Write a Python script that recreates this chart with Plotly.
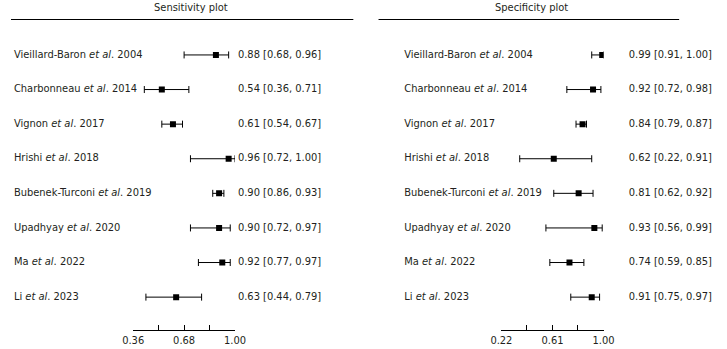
import plotly.graph_objects as go

studies = [
    "Vieillard-Baron <i>et al</i>. 2004",
    "Charbonneau <i>et al</i>. 2014",
    "Vignon <i>et al</i>. 2017",
    "Hrishi <i>et al</i>. 2018",
    "Bubenek-Turconi <i>et al</i>. 2019",
    "Upadhyay <i>et al</i>. 2020",
    "Ma <i>et al</i>. 2022",
    "Li <i>et al</i>. 2023",
]
# point estimates and CI ends as drawn in the picture
sens = [0.88, 0.54, 0.61, 0.96, 0.90, 0.90, 0.92, 0.63]
sens_lo = [0.68, 0.43, 0.54, 0.72, 0.86, 0.72, 0.77, 0.44]
sens_hi = [0.96, 0.71, 0.67, 1.00, 0.93, 0.97, 0.97, 0.79]
spec = [0.99, 0.92, 0.84, 0.62, 0.81, 0.93, 0.74, 0.91]
spec_lo = [0.91, 0.72, 0.79, 0.36, 0.62, 0.56, 0.59, 0.75]
spec_hi = [1.00, 0.98, 0.87, 0.91, 0.92, 0.99, 0.85, 0.97]
# printed estimate labels
sens_labels = ["0.88 [0.68, 0.96]", "0.54 [0.36, 0.71]", "0.61 [0.54, 0.67]", "0.96 [0.72, 1.00]",
               "0.90 [0.86, 0.93]", "0.90 [0.72, 0.97]", "0.92 [0.77, 0.97]", "0.63 [0.44, 0.79]"]
spec_labels = ["0.99 [0.91, 1.00]", "0.92 [0.72, 0.98]", "0.84 [0.79, 0.87]", "0.62 [0.22, 0.91]",
               "0.81 [0.62, 0.92]", "0.93 [0.56, 0.99]", "0.74 [0.59, 0.85]", "0.91 [0.75, 0.97]"]
sens_ticks = [0.36, 0.52, 0.68, 0.84, 1.00]
sens_ticktext = ["0.36", "", "0.68", "", "1.00"]
spec_ticks = [0.22, 0.415, 0.61, 0.805, 1.00]
spec_ticktext = ["0.22", "", "0.61", "", "1.00"]

W, H = 727, 349
FONT = "DejaVu Sans Condensed, DejaVu Sans, sans-serif"
FS = 11
TXT = "#231f20"
rows = list(range(len(studies)))
n = len(rows)

def px(x):
    return x / W

def py(y):
    return 1 - y / H

fig = go.Figure()

def add_panel(vals, lo, hi, xa):
    fig.add_trace(go.Scatter(
        x=vals, y=rows, mode="markers", xaxis=xa, yaxis="y",
        marker=dict(symbol="square", size=6, color="black"),
        error_x=dict(type="data", symmetric=False,
                     array=[h - v for h, v in zip(hi, vals)],
                     arrayminus=[v - l for v, l in zip(vals, lo)],
                     color="black", thickness=1, width=3.5),
        showlegend=False, hoverinfo="skip"))

add_panel(sens, sens_lo, sens_hi, "x")
add_panel(spec, spec_lo, spec_hi, "x2")

def add_text(xpix, texts):
    fig.add_trace(go.Scatter(
        x=[xpix] * n, y=rows, mode="text", text=texts, textposition="middle right",
        textfont=dict(family=FONT, size=FS, color=TXT), xaxis="x3", yaxis="y",
        marker=dict(size=0), showlegend=False, hoverinfo="skip", cliponaxis=False))

add_text(3, studies)
add_text(234, sens_labels)
add_text(405.5, studies)
add_text(637, spec_labels)

ann = [
    dict(x=px(186), y=py(8), xref="paper", yref="paper", text="Sensitivity plot",
         showarrow=False, xanchor="center", yanchor="middle"),
    dict(x=px(536.5), y=py(8), xref="paper", yref="paper", text="Specificity plot",
         showarrow=False, xanchor="center", yanchor="middle"),
]

shapes = [
    dict(type="line", xref="paper", yref="paper", x0=0, x1=px(353), y0=py(19.5), y1=py(19.5),
         line=dict(color="black", width=1.2)),
    dict(type="line", xref="paper", yref="paper", x0=px(379), x1=px(689), y0=py(19.5), y1=py(19.5),
         line=dict(color="black", width=1.2)),
]

axis_common = dict(showgrid=False, zeroline=False, showline=True, linecolor="black",
                   linewidth=1, ticks="inside", ticklen=5, tickwidth=1, tickcolor="black",
                   tickfont=dict(family=FONT, size=FS, color=TXT), anchor="y")

fig.update_layout(
    width=W, height=H, margin=dict(l=0, r=0, t=0, b=0),
    paper_bgcolor="white", plot_bgcolor="rgba(0,0,0,0)",
    font=dict(family=FONT, size=FS, color=TXT),
    xaxis=dict(domain=[px(126), px(231)], range=[0.36, 1.00], tickvals=sens_ticks,
               ticktext=sens_ticktext, **axis_common),
    xaxis2=dict(domain=[px(505.7), px(611)], range=[0.22, 1.00], tickvals=spec_ticks,
                ticktext=spec_ticktext, **axis_common),
    xaxis3=dict(domain=[0, 1], range=[0, W], visible=False, anchor="y"),
    yaxis=dict(domain=[py(330), py(20)], range=[7.95, -1.01], visible=False),
    annotations=ann, shapes=shapes,
)

fig.write_html("out.html")
